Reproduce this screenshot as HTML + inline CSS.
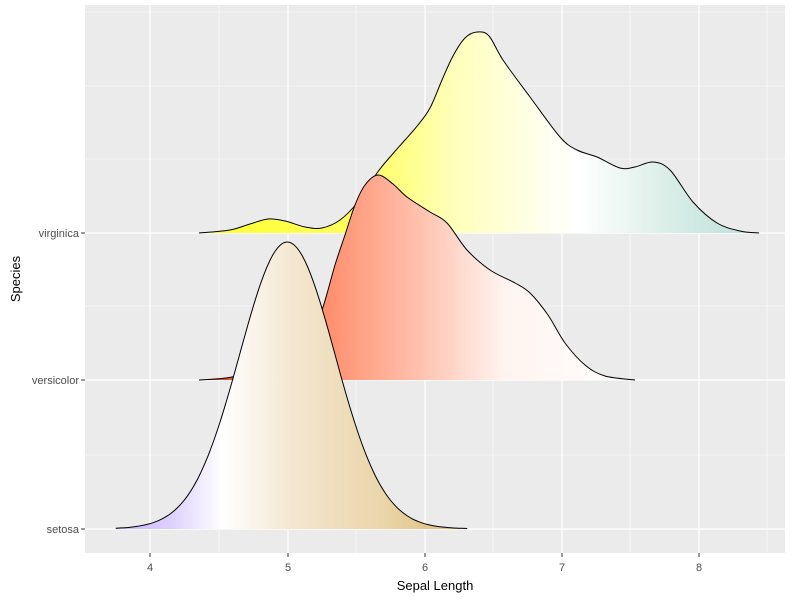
<!DOCTYPE html>
<html><head><meta charset="utf-8"><style>
body{margin:0;background:#fff;}
svg text{font-family:"Liberation Sans",sans-serif;}
</style></head><body>
<svg id="s" width="800" height="600" xmlns="http://www.w3.org/2000/svg">
<defs>
<linearGradient id="gv" gradientUnits="userSpaceOnUse" x1="199" y1="0" x2="759" y2="0">
<stop offset="0" stop-color="#ffff30"/><stop offset="0.3" stop-color="#ffff60"/>
<stop offset="0.45" stop-color="#ffffb8"/><stop offset="0.62" stop-color="#fffff0"/>
<stop offset="0.68" stop-color="#ffffff"/><stop offset="0.85" stop-color="#d8ece6"/>
<stop offset="1" stop-color="#b8e0d8"/></linearGradient>
<linearGradient id="gc" gradientUnits="userSpaceOnUse" x1="199" y1="0" x2="635" y2="0">
<stop offset="0" stop-color="#d03020"/><stop offset="0.1" stop-color="#f06040"/>
<stop offset="0.3" stop-color="#ff9070"/><stop offset="0.5" stop-color="#ffc0ac"/>
<stop offset="0.7" stop-color="#fff4f0"/><stop offset="1" stop-color="#ffffff"/></linearGradient>
<linearGradient id="gs" gradientUnits="userSpaceOnUse" x1="117" y1="0" x2="470" y2="0">
<stop offset="0" stop-color="#c8b0ff"/><stop offset="0.15" stop-color="#dcd0ff"/>
<stop offset="0.3" stop-color="#ffffff"/><stop offset="0.5" stop-color="#f4e6d0"/>
<stop offset="0.75" stop-color="#ead6aa"/><stop offset="1" stop-color="#dcb870"/></linearGradient>
</defs>
<rect x="85" y="5" width="700" height="548" fill="#ebebeb"/>
<g id="grid"></g>
<g id="ridges"></g>
<g font-size="11" fill="#4d4d4d">
<text x="150" y="571" text-anchor="middle">4</text>
<text x="288" y="571" text-anchor="middle">5</text>
<text x="425" y="571" text-anchor="middle">6</text>
<text x="562" y="571" text-anchor="middle">7</text>
<text x="699" y="571" text-anchor="middle">8</text>
<text x="79" y="237" text-anchor="end">virginica</text>
<text x="79" y="384" text-anchor="end">versicolor</text>
<text x="79" y="533" text-anchor="end">setosa</text>
</g>
<text x="435" y="590" font-size="13" text-anchor="middle" fill="#000">Sepal Length</text>
<text transform="translate(20,279) rotate(-90)" font-size="13" text-anchor="middle" fill="#000">Species</text>
</svg>
<script>
var g=document.getElementById('grid'),h='';
[81,219,356,493,630,767].forEach(function(x){if(x>85&&x<785)h+='<line x1="'+x+'" y1="5" x2="'+x+'" y2="553" stroke="#fff" stroke-width="0.6"/>';});
[150,288,425,562,699].forEach(function(x){h+='<line x1="'+x+'" y1="5" x2="'+x+'" y2="553" stroke="#fff" stroke-width="1.2"/><line x1="'+x+'" y1="553" x2="'+x+'" y2="557" stroke="#333" stroke-width="1"/>';});
[12,86,159,306,455].forEach(function(y){h+='<line x1="85" y1="'+y+'" x2="785" y2="'+y+'" stroke="#fff" stroke-width="0.6"/>';});
[233,380,529].forEach(function(y){h+='<line x1="85" y1="'+y+'" x2="785" y2="'+y+'" stroke="#fff" stroke-width="1.2"/><line x1="81" y1="'+y+'" x2="85" y2="'+y+'" stroke="#333" stroke-width="1"/>';});
g.innerHTML=h;
function cr(p){var d='M'+p[0][0]+','+p[0][1];for(var i=0;i<p.length-1;i++){var p0=p[i-1]||p[i],p1=p[i],p2=p[i+1],p3=p[i+2]||p2;
d+=' C'+(p1[0]+(p2[0]-p0[0])/6).toFixed(1)+','+(p1[1]+(p2[1]-p0[1])/6).toFixed(1)+' '+(p2[0]-(p3[0]-p1[0])/6).toFixed(1)+','+(p2[1]-(p3[1]-p1[1])/6).toFixed(1)+' '+p2[0]+','+p2[1];}return d;}
var vir=[[199,233],[230,230],[250,224],[268,219],[285,221],[305,227],[322,228],[340,220],[357,203],[377,173],[390,157],[405,140],[418,125],[430,108],[442,80],[453,56],[465,38],[477,32],[489,36],[503,60],[530,97],[560,137],[577,150],[597,157],[620,168],[635,167],[653,162],[670,170],[693,202],[717,223],[740,231],[759,233]];
var ver=[[199,380],[215,379],[232,377],[260,370],[290,355],[310,335],[322,310],[335,265],[345,235],[355,205],[365,185],[378,175],[393,184],[407,197],[430,212],[447,223],[467,250],[490,270],[515,283],[530,293],[548,315],[565,343],[585,365],[605,376],[635,380]];
var set=[];for(var v=3.75;v<=6.33;v+=0.04){var x=150+(v-4)*137.3;var z=(v-5.0)/0.345;var dd=Math.exp(-z*z/2)*0.97+Math.exp(-Math.pow((v-5.0)/0.5,2)/2)*0.03;set.push([+x.toFixed(1),+(529-287*dd).toFixed(1)]);}
var r=document.getElementById('ridges'),o='';
[[vir,233,'gv'],[ver,380,'gc'],[set,529,'gs']].forEach(function(a){var p=a[0],d=cr(p);
o+='<path d="'+d+' L'+p[p.length-1][0]+','+a[1]+' L'+p[0][0]+','+a[1]+'Z" fill="url(#'+a[2]+')"/>';
o+='<path d="'+d+'" fill="none" stroke="#000" stroke-width="1"/>';});
r.innerHTML=o;
</script>
</body></html>
